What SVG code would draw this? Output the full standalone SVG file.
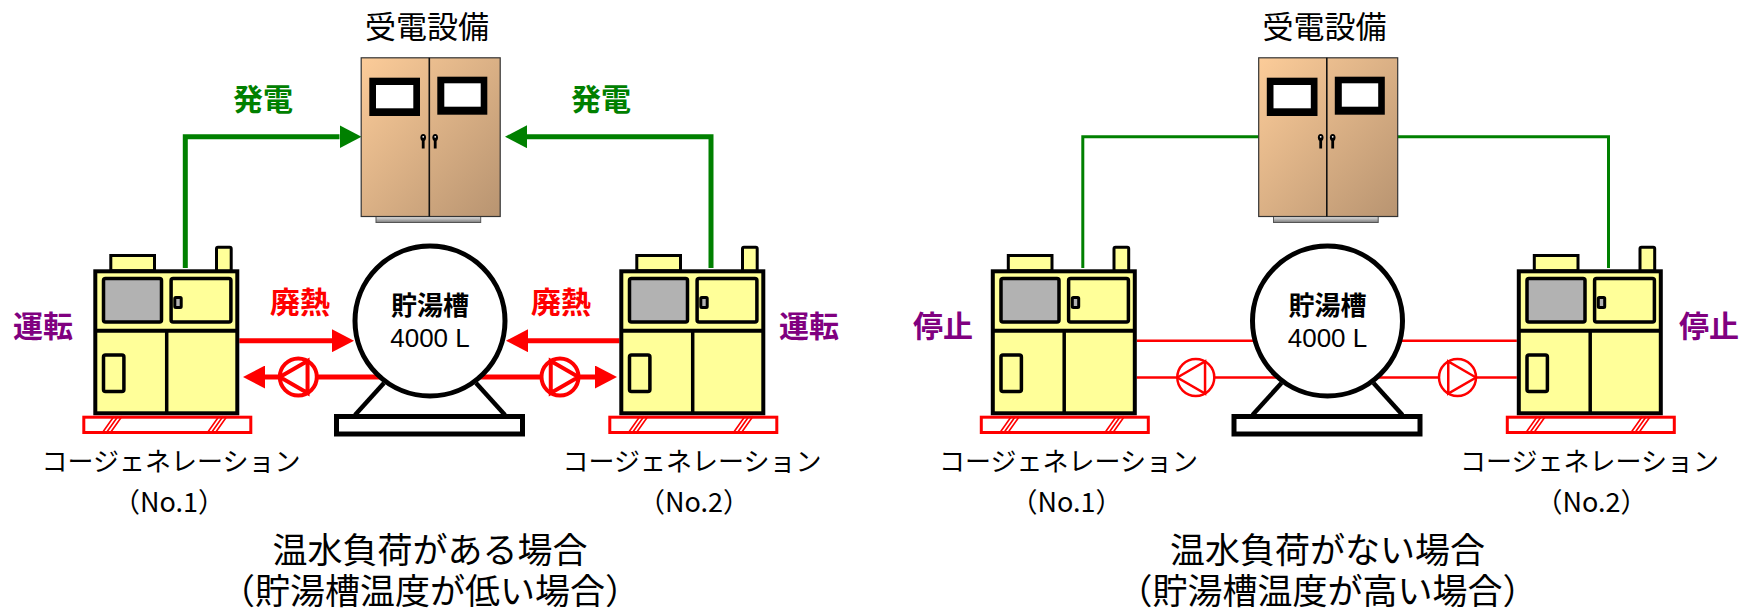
<svg xmlns="http://www.w3.org/2000/svg" width="1754" height="608" viewBox="0 0 1754 608">
  <style>
    .jp { font-family: "Noto Sans CJK JP", "Noto Sans", sans-serif; }
    .ttl { font-size: 31px; fill: #000; text-anchor: middle; }
    .lbl { font-size: 30px; font-weight: bold; text-anchor: middle; }
    .grn { fill: #008000; }
    .pur { fill: #800080; }
    .red { fill: #ff0000; }
    .name { font-size: 26px; fill: #000; text-anchor: middle; }
    .num { font-size: 27px; fill: #000; text-anchor: middle; }
    .cap { font-size: 35px; fill: #000; text-anchor: middle; }
    .tank-t { font-size: 26px; font-weight: bold; fill: #000; text-anchor: middle; }
    .vol { font-family: "Liberation Sans", Arial, sans-serif; font-size: 26px; fill: #000; text-anchor: middle; }
    .ol { stroke: #000; }
    .yel { fill: #ffff99; }
    .pipe-thick { fill: none; stroke: #ff0000; stroke-width: 5; }
    .pipe-thin { fill: none; stroke: #ff0000; stroke-width: 2.5; }
    .pow-thick { fill: none; stroke: #008000; stroke-width: 5; }
    .pow-thin { fill: none; stroke: #008000; stroke-width: 3; }
  </style>
  <defs>
    <linearGradient id="doorGrad" x1="0" y1="0" x2="1" y2="1">
      <stop offset="0" stop-color="#fccc99"/>
      <stop offset="1" stop-color="#b89471"/>
    </linearGradient>
    <linearGradient id="plinthGrad" x1="0" y1="0" x2="0" y2="1">
      <stop offset="0" stop-color="#f2f2f2"/>
      <stop offset="1" stop-color="#7a7a7a"/>
    </linearGradient>
    <marker id="arrowGreen" markerUnits="userSpaceOnUse" viewBox="0 0 22 23" markerWidth="22" markerHeight="23" refX="0" refY="11.5" orient="auto">
      <path d="M0 0 L22 11.5 L0 23 Z" fill="#008000"/>
    </marker>
    <marker id="arrowRed" markerUnits="userSpaceOnUse" viewBox="0 0 22 23" markerWidth="22" markerHeight="23" refX="0" refY="11.5" orient="auto">
      <path d="M0 0 L22 11.5 L0 23 Z" fill="#ff0000"/>
    </marker>

    <!-- cogeneration package, origin at top-left of the housing -->
    <g id="cogenUnit">
      <rect class="yel ol" x="17.5" y="-13.8" width="43.7" height="15.3" stroke-width="3"/>
      <rect class="yel ol" x="123.2" y="-22" width="14.7" height="24" rx="1.5" stroke-width="3"/>
      <rect class="yel ol" x="2" y="2" width="142" height="142" stroke-width="4"/>
      <rect class="ol" x="10.2" y="9.2" width="58" height="43.5" rx="2" fill="#b2b2b2" stroke-width="3.5"/>
      <rect class="yel ol" x="77.8" y="9.2" width="59.8" height="43.5" rx="2" stroke-width="3.5"/>
      <rect class="ol" x="81.5" y="28.2" width="6.4" height="10" rx="1" fill="#b2b2b2" stroke-width="3"/>
      <line class="ol" x1="2" y1="61.4" x2="144" y2="61.4" stroke-width="4"/>
      <line class="ol" x1="73.4" y1="61.4" x2="73.4" y2="144" stroke-width="3.5"/>
      <rect class="yel ol" x="10.2" y="85.8" width="20.4" height="36.4" rx="2" stroke-width="3.5"/>
      <rect x="-9.5" y="147.9" width="167" height="15.3" fill="#fff" stroke="#ff0000" stroke-width="3"/>
      <path d="M8.7 164 L20.7 147 M12.7 164 L24.7 147 M16.7 164 L28.7 147 M113.7 164 L125.7 147 M117.7 164 L129.7 147 M121.7 164 L133.7 147" stroke="#ff0000" stroke-width="1.6" fill="none"/>
    </g>

    <!-- switchgear cabinet -->
    <g id="cabinet">
      <rect x="376" y="216" width="104.7" height="6.5" fill="url(#plinthGrad)" stroke="#555" stroke-width="1"/>
      <rect x="361.2" y="57.8" width="139" height="158.7" fill="url(#doorGrad)" stroke="#333" stroke-width="1.2"/>
      <line x1="429.3" y1="57.8" x2="429.3" y2="216.5" stroke="#111" stroke-width="1.6"/>
      <rect x="369.3" y="77.7" width="50.7" height="38.3" fill="#000"/>
      <rect x="376" y="85" width="37.3" height="23.3" fill="#fff"/>
      <rect x="437.3" y="76.7" width="50" height="38" fill="#000"/>
      <rect x="444.3" y="83.3" width="36.4" height="23.4" fill="#fff"/>
      <rect x="421.8" y="137" width="2.8" height="11.5" fill="#000"/>
      <ellipse cx="423.2" cy="137.5" rx="2.8" ry="3.6" fill="#000"/>
      <circle cx="423.2" cy="136.8" r="0.9" fill="#fff"/>
      <rect x="433.8" y="137" width="2.8" height="11.5" fill="#000"/>
      <ellipse cx="435.2" cy="137.5" rx="2.8" ry="3.6" fill="#000"/>
      <circle cx="435.2" cy="136.8" r="0.9" fill="#fff"/>
    </g>

    <!-- hot-water storage tank on its saddle -->
    <g id="tankBody">
      <line x1="384" y1="383" x2="355" y2="415" stroke="#000" stroke-width="4.5"/>
      <line x1="476" y1="383" x2="505" y2="415" stroke="#000" stroke-width="4.5"/>
      <rect x="336.5" y="416.5" width="186" height="17.5" fill="#fff" stroke="#000" stroke-width="5"/>
      <circle cx="430" cy="321" r="75" fill="#fff" stroke="#000" stroke-width="5"/>
    </g>

    <!-- pump symbol, discharge to the left -->
    <g id="pumpLeft">
      <circle r="18.5" fill="#fff"/>
      <polygon points="-18.5,0 9.25,-16 9.25,16" fill="none"/>
    </g>
    <g id="pumpRight">
      <use href="#pumpLeft" transform="scale(-1,1)"/>
    </g>
  </defs>

  <rect width="1754" height="608" fill="#fff"/>

  <!-- ===== hot-water demand present ===== -->
  <g id="connectors-load">
    <path class="pow-thick" d="M185.3 268 V136.7 H339.5" marker-end="url(#arrowGreen)"/>
    <path class="pow-thick" d="M711 268 V136.7 H527" marker-end="url(#arrowGreen)"/>
    <path class="pipe-thick" d="M239.3 340.7 H332" marker-end="url(#arrowRed)"/>
    <path class="pipe-thick" d="M619.3 340.7 H528" marker-end="url(#arrowRed)"/>
    <path class="pipe-thick" d="M400 377 H265" marker-end="url(#arrowRed)"/>
    <path class="pipe-thick" d="M460 377 H595" marker-end="url(#arrowRed)"/>
  </g>

  <g id="switchgear-load">
    <use href="#cabinet"/>
    <text class="jp ttl" x="427" y="38">受電設備</text>
  </g>

  <g id="tank-load">
    <use href="#tankBody"/>
    <text class="jp tank-t" x="430" y="315">貯湯槽</text>
    <text class="vol" x="430" y="347">4000 L</text>
  </g>

  <g id="pump1-load" stroke="#ff0000" stroke-width="4">
    <use href="#pumpLeft" transform="translate(298.3,377)"/>
  </g>
  <g id="pump2-load" stroke="#ff0000" stroke-width="4">
    <use href="#pumpRight" transform="translate(560,377)"/>
  </g>

  <g id="cogen1-load">
    <use href="#cogenUnit" transform="translate(93.3,269.3)"/>
    <text class="jp name" x="171" y="471">コージェネレーション</text>
    <text class="jp num" x="169" y="512">（No.1）</text>
  </g>
  <g id="cogen2-load">
    <use href="#cogenUnit" transform="translate(619.3,269.3)"/>
    <text class="jp name" x="692" y="471">コージェネレーション</text>
    <text class="jp num" x="694" y="512">（No.2）</text>
  </g>

  <g id="labels-load">
    <text class="jp lbl grn" x="263" y="110">発電</text>
    <text class="jp lbl grn" x="601" y="110">発電</text>
    <text class="jp lbl red" x="300" y="313">廃熱</text>
    <text class="jp lbl red" x="561" y="313">廃熱</text>
    <text class="jp lbl pur" x="43" y="337">運転</text>
    <text class="jp lbl pur" x="809" y="337">運転</text>
  </g>

  <g id="caption-load">
    <text class="jp cap" x="430" y="563">温水負荷がある場合</text>
    <text class="jp cap" x="430" y="604">（貯湯槽温度が低い場合）</text>
  </g>

  <!-- ===== no hot-water demand ===== -->
  <g id="connectors-idle">
    <path class="pow-thin" d="M1082.8 268 V136.7 H1258.7"/>
    <path class="pow-thin" d="M1397.7 136.7 H1608.5 V268"/>
    <path class="pipe-thin" d="M1136.8 340.7 H1300 M1355 340.7 H1516.8"/>
    <path class="pipe-thin" d="M1136.8 377.5 H1516.8"/>
  </g>

  <g id="switchgear-idle">
    <use href="#cabinet" transform="translate(897.5,0)"/>
    <text class="jp ttl" x="1324.5" y="38">受電設備</text>
  </g>

  <g id="tank-idle">
    <use href="#tankBody" transform="translate(897.5,0)"/>
    <text class="jp tank-t" x="1327.5" y="315">貯湯槽</text>
    <text class="vol" x="1327.5" y="347">4000 L</text>
  </g>

  <g id="pump1-idle" stroke="#ff0000" stroke-width="2.5">
    <use href="#pumpLeft" transform="translate(1195.8,377.5)"/>
  </g>
  <g id="pump2-idle" stroke="#ff0000" stroke-width="2.5">
    <use href="#pumpRight" transform="translate(1457.5,377.5)"/>
  </g>

  <g id="cogen1-idle">
    <use href="#cogenUnit" transform="translate(990.8,269.3)"/>
    <text class="jp name" x="1068.5" y="471">コージェネレーション</text>
    <text class="jp num" x="1066.5" y="512">（No.1）</text>
  </g>
  <g id="cogen2-idle">
    <use href="#cogenUnit" transform="translate(1516.8,269.3)"/>
    <text class="jp name" x="1589.5" y="471">コージェネレーション</text>
    <text class="jp num" x="1591.5" y="512">（No.2）</text>
  </g>

  <g id="labels-idle">
    <text class="jp lbl pur" x="943" y="337">停止</text>
    <text class="jp lbl pur" x="1709" y="337">停止</text>
  </g>

  <g id="caption-idle">
    <text class="jp cap" x="1327.5" y="563">温水負荷がない場合</text>
    <text class="jp cap" x="1327.5" y="604">（貯湯槽温度が高い場合）</text>
  </g>
</svg>
